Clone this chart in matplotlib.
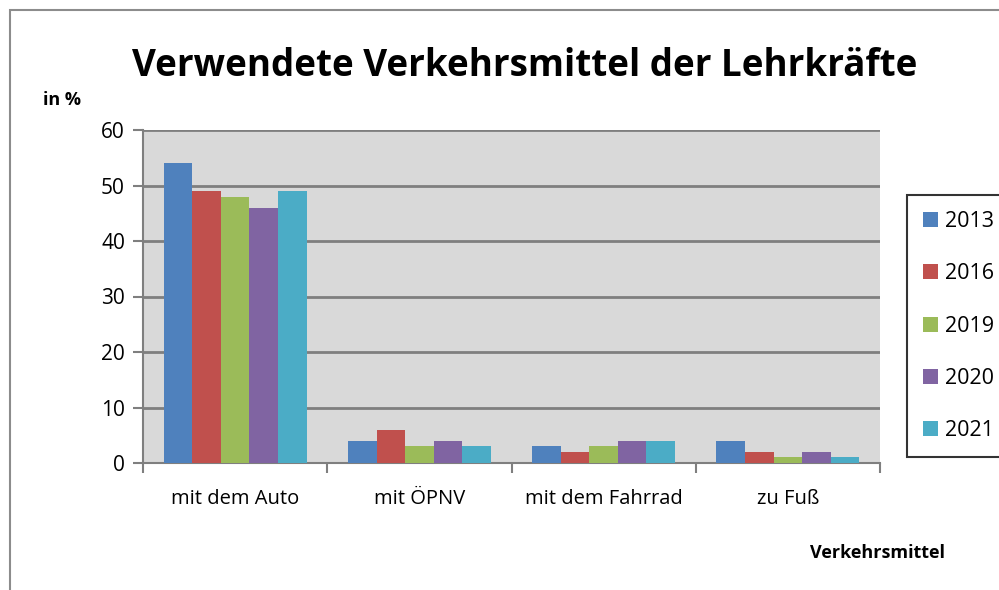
import matplotlib.pyplot as plt
from matplotlib.patches import Rectangle
import numpy as np

categories = ["mit dem Auto", "mit ÖPNV", "mit dem Fahrrad", "zu Fuß"]
years = ["2013", "2016", "2019", "2020", "2021"]
v2013 = [54, 4, 3, 4]
v2016 = [49, 6, 2, 2]
v2019 = [48, 3, 3, 1]
v2020 = [46, 4, 4, 2]
v2021 = [49, 3, 4, 1]
series = [v2013, v2016, v2019, v2020, v2021]
colors = ["#4F81BD", "#C0504D", "#9BBB59", "#8064A2", "#4BACC6"]

plt.rcParams['font.family'] = ['Open Sans', 'DejaVu Sans']

fig = plt.figure(figsize=(9.99, 5.90), dpi=100)
# outer chart frame (only left and top visible in the crop)
fig.patches.append(Rectangle((10/999, -0.2), 1.2, 1.2 - 10/590,
                             transform=fig.transFigure, fill=False,
                             edgecolor='#8c8c8c', lw=1.5))

ax = fig.add_axes([143/999, 1 - 463/590, (880-143)/999, (463-130)/590])
ax.set_facecolor('#d9d9d9')

x = np.arange(len(categories))
bw = 0.155
for i, (vals, c) in enumerate(zip(series, colors)):
    ax.bar(x + (i - 2) * bw, vals, bw, color=c, label=years[i], zorder=3)

ax.set_xlim(-0.5, len(categories) - 0.5)
ax.set_ylim(0, 60)
ax.set_yticks(range(0, 61, 10))
ax.yaxis.grid(True, color='#7f7f7f', lw=2, zorder=1)
ax.set_axisbelow(True)

ax.set_xticks(np.arange(-0.5, len(categories)), minor=False)
ax.set_xticklabels([])
ax.set_xticks(x, minor=True)
ax.set_xticklabels(categories, minor=True, fontsize=14.5)
ax.tick_params(axis='x', which='minor', length=0, pad=19)
ax.tick_params(axis='x', which='major', length=7, width=1.5, color='#7f7f7f')
ax.tick_params(axis='y', length=7, width=1.5, color='#7f7f7f', labelsize=15, pad=6)

for s in ['top', 'right']:
    ax.spines[s].set_visible(False)
ax.spines['left'].set_color('#7f7f7f')
ax.spines['left'].set_linewidth(1.5)
ax.spines['bottom'].set_color('#7f7f7f')
ax.spines['bottom'].set_linewidth(1.5)

fig.text(525/999, 1 - 66/590, "Verwendete Verkehrsmittel der Lehrkräfte",
         ha='center', va='center', fontsize=26.5, fontweight='bold')
fig.text(62/999, 1 - 100/590, "in %", ha='center', va='center',
         fontsize=13, fontweight='bold')
fig.text(878/999, 1 - 553/590, "Verkehrsmittel", ha='center', va='center',
         fontsize=13, fontweight='bold')

leg = fig.legend(loc='upper left', bbox_to_anchor=(907/999, 1 - 195/590),
                 fontsize=15.5, frameon=True, fancybox=False, borderaxespad=0,
                 handlelength=0.7, handleheight=0.7, handletextpad=0.3,
                 labelspacing=1.45, borderpad=0.75)
leg.get_frame().set_edgecolor('black')
leg.get_frame().set_linewidth(1.5)

fig.savefig("out.png", dpi=100)
